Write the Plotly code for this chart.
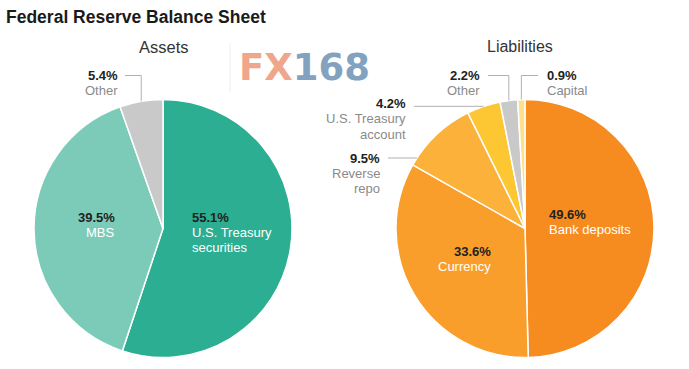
import math
import plotly.graph_objects as go

# ---- data ----
asset_labels = ["U.S. Treasury securities", "MBS", "Other"]
asset_values = [55.1, 39.5, 5.4]
asset_colors = ["#2bae91", "#7ccbb8", "#c9c9c9"]

liab_labels = ["Bank deposits", "Currency", "Reverse repo", "U.S. Treasury account", "Other", "Capital"]
liab_values = [49.6, 33.6, 9.5, 4.2, 2.2, 0.9]
liab_colors = ["#f68c1f", "#f99e2a", "#fbb13a", "#fdc733", "#c9c9c9", "#fde08e"]

W, H = 689, 369
def px(x):
    return x / W
def py(y):
    return 1 - y / H

# pie geometry (pixels)
R = 129
LCX, RCX, CY = 163, 525, 228.5

fig = go.Figure()
fig.add_trace(go.Pie(
    labels=asset_labels, values=asset_values, sort=False, direction="clockwise", rotation=0,
    marker=dict(colors=asset_colors, line=dict(color="white", width=1.5)),
    textinfo="none", hoverinfo="label+percent", showlegend=False,
    domain=dict(x=[px(LCX - R), px(LCX + R)], y=[py(CY + R), py(CY - R)]),
))
fig.add_trace(go.Pie(
    labels=liab_labels, values=liab_values, sort=False, direction="clockwise", rotation=0,
    marker=dict(colors=liab_colors, line=dict(color="white", width=1.5)),
    textinfo="none", hoverinfo="label+percent", showlegend=False,
    domain=dict(x=[px(RCX - R), px(RCX + R)], y=[py(CY + R), py(CY - R)]),
))

def mid_angle(values, i):
    tot = sum(values)
    start = sum(values[:i]) / tot * 360
    return start + values[i] / tot * 180

def edge(cx, values, i):
    a = math.radians(mid_angle(values, i))
    return cx + R * math.sin(a), CY - R * math.cos(a)

FONT = "Liberation Sans, Arial, sans-serif"
DARK = "#222222"
GREY = "#8a8a8a"
LINE = "#b0b0b0"
LH = 15  # line spacing in px

ann = []
shapes = []

def label(x, y, pct, text, anchor, lab_color=GREY, size=13):
    """y = centre of first (percentage) line"""
    ann.append(dict(x=px(x), y=py(y), xref="paper", yref="paper", text=f"<b>{pct}%</b>", showarrow=False,
                    xanchor=anchor, yanchor="middle", font=dict(family=FONT, size=size, color=DARK)))
    for k, ln in enumerate(text.split("\n")):
        ann.append(dict(x=px(x), y=py(y + LH * (k + 1)), xref="paper", yref="paper", text=ln, showarrow=False,
                        xanchor=anchor, yanchor="middle", font=dict(family=FONT, size=size, color=lab_color)))

def seg(x0, y0, x1, y1):
    shapes.append(dict(type="line", xref="paper", yref="paper", x0=px(x0), y0=py(y0), x1=px(x1), y1=py(y1),
                       line=dict(color=LINE, width=1)))

# title and subtitles
ann.append(dict(x=px(4), y=py(17), xref="paper", yref="paper", text="<b>Federal Reserve Balance Sheet</b>",
                showarrow=False, xanchor="left", yanchor="middle", font=dict(family=FONT, size=17.5, color="#1a1a1a")))
ann.append(dict(x=px(164), y=py(47), xref="paper", yref="paper", text="Assets", showarrow=False,
                xanchor="center", yanchor="middle", font=dict(family=FONT, size=16.5, color="#333333")))
ann.append(dict(x=px(520), y=py(46), xref="paper", yref="paper", text="Liabilities", showarrow=False,
                xanchor="center", yanchor="middle", font=dict(family=FONT, size=16, color="#333333")))

# watermark
shapes.append(dict(type="line", xref="paper", yref="paper", x0=px(230), y0=py(43), x1=px(230), y1=py(92),
                   line=dict(color="#eeeeee", width=1)))
ann.append(dict(x=px(237), y=py(67), xref="paper", yref="paper",
                text="<b><span style='color:#efa68b'>FX</span><span style='color:#83a2c0'>168</span></b>",
                showarrow=False, xanchor="left", yanchor="middle",
                font=dict(family="DejaVu Sans, sans-serif", size=37)))

# inside labels
label(190, 217, asset_values[0], "U.S. Treasury\nsecurities", "left", "white")
label(117, 217, asset_values[1], "MBS", "right", "white")
label(547, 215, liab_values[0], "Bank deposits", "left", "white")
label(493, 251, liab_values[1], "Currency", "right", "white")

# outside labels with leader lines
TOPY = 75.5
# assets: Other
ex, ey = edge(LCX, asset_values, 2)
label(120, 75, asset_values[2], "Other", "right")
seg(ex, ey, ex, TOPY); seg(ex, TOPY, 125, TOPY)

# liabilities: Capital
ex, ey = edge(RCX, liab_values, 5)
label(545, 75, liab_values[5], "Capital", "left")
seg(ex, ey, ex, TOPY); seg(ex, TOPY, 538, TOPY)

# liabilities: Other
ex, ey = edge(RCX, liab_values, 4)
label(482, 75, liab_values[4], "Other", "right")
seg(ex, ey, ex, TOPY); seg(ex, TOPY, 488, TOPY)

# liabilities: Treasury account
ex, ey = edge(RCX, liab_values, 3)
label(408, 104, liab_values[3], "U.S. Treasury\naccount", "right")
seg(414, ey, ex, ey)

# liabilities: Reverse repo (horizontal line to circle edge)
ly = 158
lx = RCX - math.sqrt(R**2 - (CY - ly)**2)
label(382, 158, liab_values[2], "Reverse\nrepo", "right")
seg(388, ly, lx, ly)

fig.update_layout(
    width=W, height=H, margin=dict(l=0, r=0, t=0, b=0),
    paper_bgcolor="white", plot_bgcolor="white",
    annotations=ann, shapes=shapes,
)
fig.write_html("out.html", config={"displayModeBar": False},
               post_script="document.body.style.margin='0';document.body.style.overflow='hidden';")
